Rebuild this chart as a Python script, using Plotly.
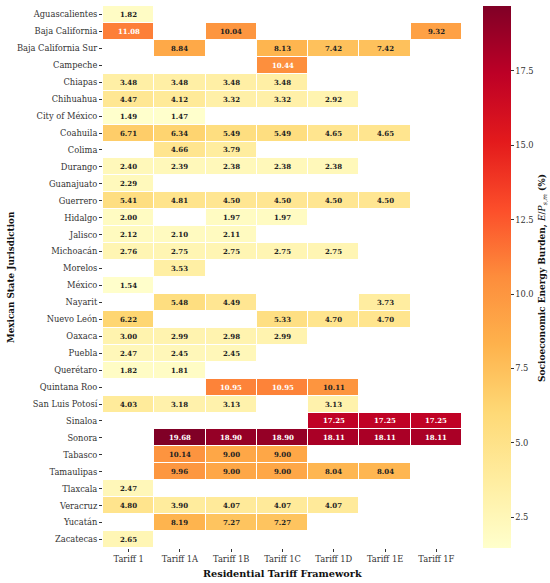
import plotly.graph_objects as go

states = ["Aguascalientes", "Baja California", "Baja California Sur", "Campeche", "Chiapas",
          "Chihuahua", "City of México", "Coahuila", "Colima", "Durango", "Guanajuato",
          "Guerrero", "Hidalgo", "Jalisco", "Michoacán", "Morelos", "México", "Nayarit",
          "Nuevo León", "Oaxaca", "Puebla", "Querétaro", "Quintana Roo", "San Luis Potosí",
          "Sinaloa", "Sonora", "Tabasco", "Tamaulipas", "Tlaxcala", "Veracruz", "Yucatán",
          "Zacatecas"]
tariffs = ["Tariff 1", "Tariff 1A", "Tariff 1B", "Tariff 1C", "Tariff 1D", "Tariff 1E", "Tariff 1F"]

N = None
tariff_1  = [1.82, 11.08, N, N, 3.48, 4.47, 1.49, 6.71, N, 2.40, 2.29, 5.41, 2.00, 2.12, 2.76, N, 1.54, N, 6.22, 3.00, 2.47, 1.82, N, 4.03, N, N, N, N, 2.47, 4.80, N, 2.65]
tariff_1a = [N, N, 8.84, N, 3.48, 4.12, 1.47, 6.34, 4.66, 2.39, N, 4.81, N, 2.10, 2.75, 3.53, N, 5.48, N, 2.99, 2.45, 1.81, N, 3.18, N, 19.68, 10.14, 9.96, N, 3.90, 8.19, N]
tariff_1b = [N, 10.04, N, N, 3.48, 3.32, N, 5.49, 3.79, 2.38, N, 4.50, 1.97, 2.11, 2.75, N, N, 4.49, N, 2.98, 2.45, N, 10.95, 3.13, N, 18.90, 9.00, 9.00, N, 4.07, 7.27, N]
tariff_1c = [N, N, 8.13, 10.44, 3.48, 3.32, N, 5.49, N, 2.38, N, 4.50, 1.97, N, 2.75, N, N, N, 5.33, 2.99, N, N, 10.95, N, N, 18.90, 9.00, 9.00, N, 4.07, 7.27, N]
tariff_1d = [N, N, 7.42, N, N, 2.92, N, 4.65, N, 2.38, N, 4.50, N, N, 2.75, N, N, N, 4.70, N, N, N, 10.11, 3.13, 17.25, 18.11, N, 8.04, N, 4.07, N, N]
tariff_1e = [N, N, 7.42, N, N, N, N, 4.65, N, N, N, 4.50, N, N, N, N, N, 3.73, 4.70, N, N, N, N, N, 17.25, 18.11, N, 8.04, N, N, N, N]
tariff_1f = [N, 9.32, N, N, N, N, N, N, N, N, N, N, N, N, N, N, N, N, N, N, N, N, N, N, 17.25, 18.11, N, N, N, N, N, N]

colorbar_ticks = [2.5, 5.0, 7.5, 10.0, 12.5, 15.0, 17.5]

columns = [tariff_1, tariff_1a, tariff_1b, tariff_1c, tariff_1d, tariff_1e, tariff_1f]
z = [[columns[j][i] for j in range(len(tariffs))] for i in range(len(states))]

ylorrd = ["#ffffcc", "#ffeda0", "#fed976", "#feb24c", "#fd8d3c", "#fc4e2a", "#e31a1c", "#bd0026", "#800026"]
colorscale = [[i / (len(ylorrd) - 1), c] for i, c in enumerate(ylorrd)]

vals = [v for row in z for v in row if v is not None]
zmin, zmax = min(vals), max(vals)

FONT = "DejaVu Serif"
W, H = 550, 583
ML, MR, MT, MB = 103, 88, 6, 35
PW = W - ML - MR
PH = H - MT - MB

def px_x(px):
    return (px - ML) / PW

def px_y(py):
    return (H - MB - py) / PH

fig = go.Figure(go.Heatmap(
    z=z, x=tariffs, y=states, colorscale=colorscale, zmin=zmin, zmax=zmax,
    xgap=1, ygap=1, hoverongaps=False,
    colorbar=dict(
        x=px_x(483), xanchor="left", xpad=0, ypad=0, y=0, yanchor="bottom", len=1, lenmode="fraction",
        thickness=28, outlinewidth=0, ticks="outside", ticklen=3, tickwidth=1, tickcolor="#333",
        tickvals=colorbar_ticks, ticktext=[f"{t:.1f}" for t in colorbar_ticks],
        tickfont=dict(family=FONT, size=8.3, color="#333"),
    ),
))

annotations = []
for i, s in enumerate(states):
    for j, t in enumerate(tariffs):
        v = z[i][j]
        if v is None:
            continue
        annotations.append(dict(
            x=t, y=s, text=f"<b>{v:.2f}</b>", showarrow=False,
            font=dict(family=FONT, size=7, color="white" if v > 10.3 else "#222"),
        ))

# axis and colorbar titles
annotations.append(dict(
    xref="paper", yref="paper", x=px_x(282.5), y=px_y(573), text="<b>Residential Tariff Framework</b>",
    showarrow=False, font=dict(family=FONT, size=9.7, color="#111"), xanchor="center", yanchor="middle"))
annotations.append(dict(
    xref="paper", yref="paper", x=px_x(11), y=px_y(277), text="<b>Mexican State Jurisdiction</b>",
    showarrow=False, textangle=-90, font=dict(family=FONT, size=8.8, color="#111"), xanchor="center", yanchor="middle"))
annotations.append(dict(
    xref="paper", yref="paper", x=px_x(542), y=px_y(278),
    text="<b>Socioeconomic Energy Burden, </b><i>E</i>/<i>P</i><sub><i>s,m</i></sub><b> (%)</b>",
    showarrow=False, textangle=-90, font=dict(family=FONT, size=9, color="#111"), xanchor="center", yanchor="middle"))

fig.update_layout(
    width=W, height=H,
    margin=dict(l=ML, r=MR, t=MT, b=MB),
    paper_bgcolor="white", plot_bgcolor="white",
    annotations=annotations,
    font=dict(family=FONT, color="#222"),
    xaxis=dict(
        showgrid=False, zeroline=False, ticks="outside", ticklen=3, tickcolor="#333", automargin=False,
        tickfont=dict(family=FONT, size=8.3, color="#333"),
    ),
    yaxis=dict(
        autorange="reversed", showgrid=False, zeroline=False, ticks="outside", ticklen=3, tickcolor="#333",
        automargin=False, tickfont=dict(family=FONT, size=8.3, color="#333"),
    ),
)

fig.write_html("out.html", config={"displayModeBar": False},
               post_script="document.body.style.margin='0';document.body.style.overflow='hidden';")
